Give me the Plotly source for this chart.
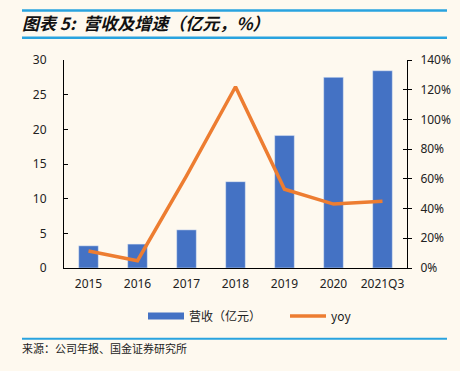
import plotly.graph_objects as go

categories = ["2015", "2016", "2017", "2018", "2019", "2020", "2021Q3"]
revenue = [3.2, 3.45, 5.5, 12.45, 19.1, 27.5, 28.45]
yoy = [11.4, 4.9, 62, 122, 53, 43, 44.9]
left_ticks = [0, 5, 10, 15, 20, 25, 30]
right_ticks = [0, 20, 40, 60, 80, 100, 120, 140]
right_labels = [f"{v}%" for v in right_ticks]

BLUE = "#4472C4"
ORANGE = "#ED7D31"
BG = "#FEF9EF"
LINE_BLUE = "#29A3DF"
FONT = "Noto Sans, Open Sans, sans-serif"
CJK = "Noto Sans CJK SC"

L, R, T, B = 64, 53, 60, 103
PW, PH = 460 - L - R, 371 - T - B


def px(x):
    return (x - L) / PW


def py(y):
    return 1 - (y - T) / PH


fig = go.Figure()
fig.add_trace(go.Bar(x=categories, y=revenue, marker_color=BLUE, width=0.4,
                     showlegend=False, yaxis="y", name="营收（亿元）"))
# legend proxy with wide swatch
fig.add_trace(go.Scatter(x=[None], y=[None], mode="lines", name="营收（亿元）",
                         line=dict(color=BLUE, width=7), yaxis="y"))
fig.add_trace(go.Scatter(x=categories, y=yoy, mode="lines", name="yoy",
                         line=dict(color=ORANGE, width=3.5), yaxis="y2"))
# dummy trace to activate yaxis3
fig.add_trace(go.Scatter(x=[categories[0]], y=[None], yaxis="y3", showlegend=False,
                         hoverinfo="skip"))

fig.update_layout(
    width=460, height=371,
    paper_bgcolor=BG, plot_bgcolor=BG,
    margin=dict(l=L, r=R, t=T, b=B, autoexpand=False),
    font=dict(family=FONT, size=12, color="#222"),
    bargap=0.6,
    xaxis=dict(type="category", showline=True, linecolor="black", linewidth=1,
               ticks="", showgrid=False, tickfont=dict(size=12),
               ticklabelstandoff=5, automargin=False),
    yaxis=dict(range=[0, 30], tickvals=left_ticks, showline=True, linecolor="black",
               linewidth=1, ticks="inside", ticklen=4, tickcolor="black",
               showgrid=False, zeroline=False, ticklabelstandoff=14, automargin=False),
    yaxis2=dict(range=[0, 140], tickvals=right_ticks, ticktext=right_labels,
                overlaying="y", side="right", showline=True, linecolor="black",
                linewidth=1, ticks="outside", ticklen=4, tickcolor="black",
                showgrid=False, zeroline=False, ticklabelstandoff=6, automargin=False),
    yaxis3=dict(range=[0, 140], tickvals=right_ticks, overlaying="y", side="right",
                showticklabels=False, ticks="inside", ticklen=4, tickcolor="black",
                showline=False, showgrid=False, zeroline=False, automargin=False),
    legend=dict(orientation="h", xref="container", x=(148 - 5) / 460, xanchor="left",
                yref="container", y=1 - 316 / 371, yanchor="middle",
                font=dict(family=CJK, size=12, color="#222"), bgcolor="rgba(0,0,0,0)",
                itemwidth=36, entrywidth=91, tracegroupgap=0),
)

shapes = []
for yy, w in [(10.5, 2.5), (37.8, 2.5), (338.7, 2)]:
    shapes.append(dict(type="line", xref="paper", yref="paper",
                       x0=px(22), x1=px(447), y0=py(yy), y1=py(yy),
                       line=dict(color=LINE_BLUE, width=w)))
fig.update_layout(shapes=shapes)

fig.add_annotation(text="<b><i>图表 5:  营收及增速（亿元，%）</i></b>", xref="paper", yref="paper",
                   x=px(20), y=py(22), xanchor="left", yanchor="middle",
                   showarrow=False, font=dict(family=CJK, size=17, color="#111"))
fig.add_annotation(text="来源：公司年报、国金证券研究所", xref="paper", yref="paper",
                   x=px(20), y=py(348), xanchor="left", yanchor="middle",
                   showarrow=False, font=dict(family=CJK, size=11, color="#222"))

fig.write_html("out.html", config={"displayModeBar": False},
               post_script="document.body.style.margin='0px';document.body.style.background='" + BG + "';")
